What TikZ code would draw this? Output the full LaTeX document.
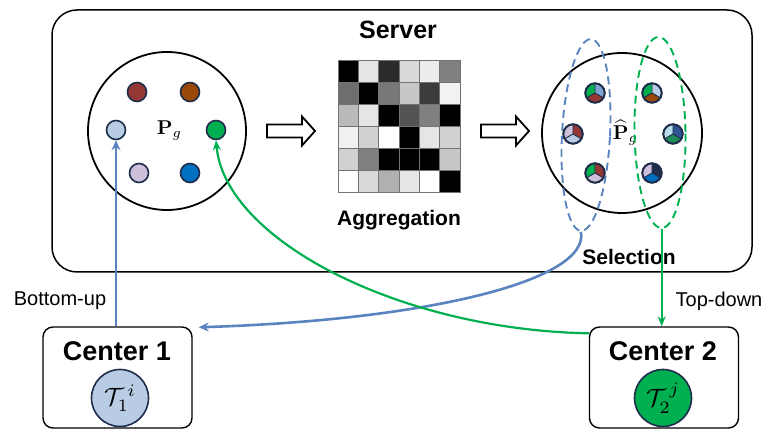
\documentclass[tikz,border=0pt]{standalone}
\usepackage[no-math]{fontspec}
\usepackage{graphicx}
\setmainfont{Liberation Sans}
\usetikzlibrary{arrows.meta,shapes.geometric,calc}
\definecolor{navy}{HTML}{1F2D4A}
\definecolor{cblue}{HTML}{5A84C0}
\definecolor{cgreen}{HTML}{00B050}
\definecolor{lblue}{HTML}{B8CCE4}
\definecolor{lav}{HTML}{CCC0DA}
\definecolor{dred}{HTML}{953735}
\definecolor{brown}{HTML}{984807}
\definecolor{mblue}{HTML}{0070C0}
\definecolor{sblue}{HTML}{7FA3D4}
\definecolor{cyanl}{HTML}{B7DEE8}
\definecolor{dblue}{HTML}{2F5597}
\definecolor{dgreen}{HTML}{1E8C5A}
\newcommand\mypie[6]{%
  \node[circle, draw=navy, line width=1.3pt, minimum size=20pt, inner sep=0pt] (#1) at (#2,#3) {};
  \begin{scope}[shift={(#2,#3)}]
    \fill[#4] (0,0) -- (90:9.4) arc[start angle=90,end angle=210,radius=9.4] -- cycle;
    \fill[#5] (0,0) -- (-30:9.4) arc[start angle=-30,end angle=90,radius=9.4] -- cycle;
    \fill[#6] (0,0) -- (210:9.4) arc[start angle=210,end angle=330,radius=9.4] -- cycle;
    \draw[navy, line width=0.9pt] (0,0) -- (90:9.4) (0,0) -- (210:9.4) (0,0) -- (-30:9.4);
    \draw[navy, line width=1.8pt] (0,0) circle (9.6);
  \end{scope}}
\tikzset{
  bigtxt/.style={font=\bfseries\fontsize{25}{28}\selectfont},
  midtxt/.style={font=\bfseries\fontsize{21}{24}\selectfont},
  ctrtxt/.style={font=\bfseries\fontsize{27}{30}\selectfont},
  lbltxt/.style={font=\fontsize{20}{23}\selectfont},
  dot/.style={circle, draw=navy, line width=1.6pt, minimum size=19pt, inner sep=0pt},
  pool/.style={circle, draw=black, line width=1.8pt, inner sep=0pt},
  ctrbox/.style={draw=black, line width=1.4pt, rounded corners=10pt, minimum width=149pt, minimum height=101pt, inner sep=0pt},
  task/.style={circle, draw=navy, line width=1.6pt, minimum size=57pt, inner sep=0pt},
  blk/.style={draw=black, line width=1.8pt, fill=white},
  bluearr/.style={cblue, line width=2.6pt, -{Stealth[length=10pt,width=9pt]}},
  greenarr/.style={cgreen, line width=2.2pt, -{Stealth[length=10pt,width=8pt]}},
  sel/.style={ellipse, draw, line width=1.9pt, dash pattern=on 8pt off 5pt, inner sep=0pt}
}
\begin{document}
\begin{tikzpicture}[x=1pt,y=1pt]
\useasboundingbox (0,0) rectangle (761,430);
% server
\node[draw=black, line width=1.5pt, rounded corners=25pt, minimum width=700pt, minimum height=262pt, inner sep=0pt] (server) at (402,289) {};
\node[bigtxt] (servertxt) at (398,400) {Server};
% global pool
\node[pool, minimum size=158pt] (pg) at (167,299) {\hspace{5pt}\raisebox{-3pt}{\scalebox{2}{$\mathbf{P}_g$}}};
\node[dot, fill=dred] (d1) at (137,338) {};
\node[dot, fill=brown] (d2) at (190,338) {};
\node[dot, fill=lblue] (d3) at (116,300) {};
\node[dot, fill=cgreen] (d4) at (216,300) {};
\node[dot, fill=lav] (d5) at (139,257) {};
\node[dot, fill=mblue] (d6) at (190,257) {};
% block arrows
\draw[blk] (267,292.5) -- (302,292.5) -- (302,284.5) -- (315,299) -- (302,313.5) -- (302,305.5) -- (267,305.5) -- cycle;
\draw[blk] (481,292.5) -- (516,292.5) -- (516,284.5) -- (529,299) -- (516,313.5) -- (516,305.5) -- (481,305.5) -- cycle;
% aggregation matrix
\foreach \r/\vals in {0/{100,10,83,15,7,50},1/{57,100,53,22,77,5},2/{27,10,100,67,50,100},3/{6,18,0,100,10,18},4/{18,50,100,100,100,22},5/{0,15,31,10,0,100}} {
  \foreach \v [count=\c from 0] in \vals {
    \filldraw[fill=black!\v, draw=black!55, line width=0.7pt] (338+\c*20.33,370-\r*22) rectangle ++(20.33,-22);
  }
}
\node[midtxt] (aggtxt) at (399,210) {Aggregation};
% selected pool
\node[pool, minimum size=160pt] (ph) at (622,297) {\hspace{7pt}\raisebox{-2pt}{\scalebox{2}{$\widehat{\mathbf{P}}_g$}}};
\mypie{q1}{595}{337}{cgreen}{sblue}{dred}
\mypie{q2}{652}{337}{cgreen}{lblue}{brown}
\mypie{q3}{573}{296}{lav}{dred}{lblue}
\mypie{q4}{673}{296}{cyanl}{dblue}{dgreen}
\mypie{q5}{595}{257}{cgreen}{dred}{lav}
\mypie{q6}{652}{257}{lav}{navy}{mblue}
\node[sel, draw=cblue, rotate=-3, minimum width=48pt, minimum height=192pt] (bsel) at (586,295) {};
\node[sel, draw=cgreen, rotate=1, minimum width=51pt, minimum height=191pt] (gsel) at (660,297.5) {};
\node[midtxt] (seltxt) at (629,173) {Selection};
% centers
\node[ctrbox] (c1) at (117.5,52.5) {};
\node[ctrtxt] (c1txt) at (117,79) {Center 1};
\node[task, fill=lblue] (t1) at (120,32) {\scalebox{2.5}{$\mathcal{T}_1^{\,i}$}};
\node[ctrbox] (c2) at (664,52.5) {};
\node[ctrtxt] (c2txt) at (663,79) {Center 2};
\node[task, fill=cgreen] (t2) at (663,32) {\scalebox{2.5}{$\mathcal{T}_2^{\,j}$}};
\node[lbltxt] (bu) at (60,129) {Bottom-up};
\node[lbltxt] (td) at (719,129) {Top-down};
% connectors
\coordinate (c1e) at ($(c1.north east)+(6,-1)$);
\coordinate (c2w) at ($(c2.north west)+(0,-7)$);
\draw[bluearr] (d3 |- c1.north) -- (d3.south);
\draw[bluearr] (bsel.south) .. controls (590,150) and (430,110) .. (c1e);
\draw[greenarr] (c2w) .. controls (400,100) and (225,190) .. (d4.south);
\draw[greenarr] (gsel.south) -- (gsel.south |- c2.north);
\end{tikzpicture}
\end{document}
